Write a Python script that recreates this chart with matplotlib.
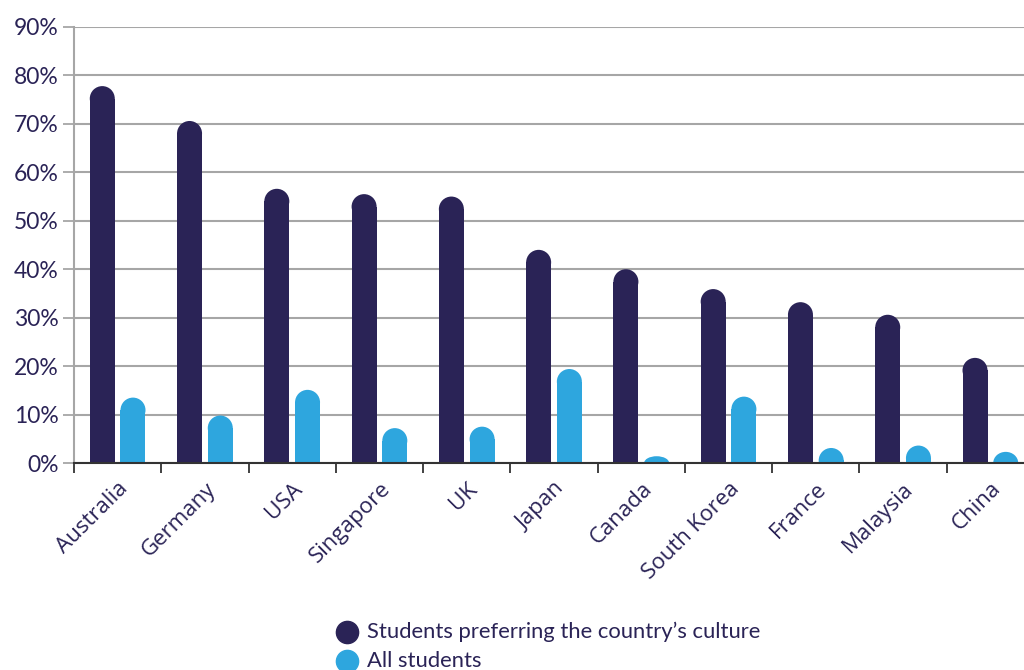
import matplotlib
matplotlib.use("Agg")
import matplotlib.pyplot as plt
from matplotlib.patches import Ellipse, Rectangle
from matplotlib.lines import Line2D
import numpy as np

countries = ["Australia", "Germany", "USA", "Singapore", "UK", "Japan",
             "Canada", "South Korea", "France", "Malaysia", "China"]
culture_pref = [77.8, 70.6, 56.6, 55.5, 55.0, 44.0, 40.0, 35.9, 33.2, 30.6, 21.7]
all_students = [13.5, 9.8, 15.1, 7.2, 7.5, 19.4, 1.4, 13.7, 3.1, 3.6, 2.3]
y_ticks = [0, 10, 20, 30, 40, 50, 60, 70, 80, 90]
series_names = ["Students preferring the country\u2019s culture", "All students"]

NAVY = "#2a2356"
BLUE = "#2ea6de"
GRID = "#a6a6a6"

W, H = 1024, 670
fig = plt.figure(figsize=(W / 100, H / 100), dpi=100)
left_px, right_px = 74, 1034
top_px, bottom_px = 27, 463
ax = fig.add_axes([left_px / W, 1 - bottom_px / H,
                   (right_px - left_px) / W, (bottom_px - top_px) / H])
ax.set_xlim(-0.5, len(countries) - 0.5)
ax.set_ylim(0, 90)

px_per_x = (right_px - left_px) / len(countries)
px_per_y = (bottom_px - top_px) / 90.0
bar_w = 25 / px_per_x
offset = 0.176
r_y = (25 / 2) / px_per_y


def rounded_bar(x, val, color):
    if val > r_y:
        ax.add_patch(Rectangle((x - bar_w / 2, 0), bar_w, val - r_y,
                               facecolor=color, edgecolor="none", zorder=3))
        ax.add_patch(Ellipse((x, val - r_y), bar_w, 2 * r_y,
                             facecolor=color, edgecolor="none", zorder=3))
    else:
        ax.add_patch(Ellipse((x, 0), bar_w, 2 * val,
                             facecolor=color, edgecolor="none", zorder=3,
                             clip_on=True))


xs = np.arange(len(countries))
for i, (a, b) in enumerate(zip(culture_pref, all_students)):
    rounded_bar(xs[i] - offset, a, NAVY)
    rounded_bar(xs[i] + offset, b, BLUE)

# grid
ax.set_yticks(y_ticks)
ax.set_yticklabels([f"{v}%" for v in y_ticks])
ax.yaxis.grid(True, color=GRID, linewidth=1.5, zorder=0)
ax.set_axisbelow(True)

# x ticks at category boundaries
ax.set_xticks(np.arange(-0.5, len(countries) + 0.5, 1.0))
ax.set_xticklabels([])
ax.set_xticks(xs, minor=True)
ax.set_xticklabels(countries, minor=True, rotation=45, ha="right",
                   rotation_mode="anchor", fontsize=16, color=NAVY,
                   family="Open Sans")
ax.tick_params(axis="x", which="minor", length=0, pad=11)
ax.tick_params(axis="x", which="major", length=7, width=1.3, color="#333333",
               direction="out")
ax.tick_params(axis="y", length=8, width=1.3, color=GRID, labelsize=16.5,
               labelcolor=NAVY, pad=3)
for lbl in ax.get_yticklabels():
    lbl.set_family("Lato")

for s in ["top", "right"]:
    ax.spines[s].set_visible(False)
ax.spines["left"].set_color(GRID)
ax.spines["left"].set_linewidth(1.5)
ax.spines["bottom"].set_color("#333333")
ax.spines["bottom"].set_linewidth(1.5)
ax.spines["bottom"].set_zorder(4)

# legend
leg_x = 347 / W
leg_y = [632, 661]
for name, col, yy in zip(series_names, [NAVY, BLUE], leg_y):
    fig.add_artist(Line2D([leg_x], [1 - yy / H], marker="o", markersize=16,
                          color=col, linestyle="none",
                          transform=fig.transFigure))
    fig.text(367 / W, 1 - yy / H, name, fontsize=15.8, color=NAVY,
             family="Lato", va="center", ha="left")

fig.savefig("out.png", dpi=100)
